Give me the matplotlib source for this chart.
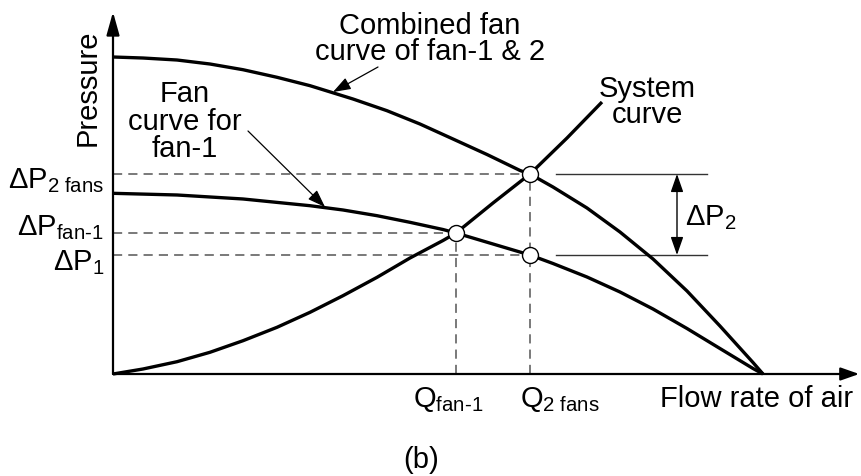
import matplotlib
matplotlib.use("Agg")
import matplotlib.pyplot as plt

# ---------------- data (arbitrary flow / pressure units) ----------------
combined_q = [0.000, 0.462, 0.985, 1.492, 2.000, 2.523, 3.031, 3.692, 4.215,
              4.723, 5.231, 5.754, 6.262, 6.415, 6.769, 7.292, 7.800, 8.308,
              8.831, 9.338, 9.846, 10.000]
combined_p = [10.000, 9.968, 9.905, 9.779, 9.599, 9.360, 9.095, 8.675, 8.306,
              7.886, 7.413, 6.924, 6.420, 6.309, 5.899, 5.237, 4.479, 3.628,
              2.618, 1.514, 0.363, 0.000]

fan1_q = [0.000, 0.985, 2.000, 3.031, 3.538, 4.062, 4.569, 5.077, 5.277,
          6.415, 6.769, 7.292, 7.800, 8.308, 8.831, 9.338, 9.846, 10.000]
fan1_p = [5.700, 5.647, 5.521, 5.309, 5.174, 4.994, 4.785, 4.558, 4.448,
          3.754, 3.486, 3.060, 2.587, 2.050, 1.435, 0.804, 0.174, 0.000]

system_q = [0.000, 0.462, 0.985, 1.492, 2.000, 2.523, 3.031, 3.538, 4.062,
            4.569, 5.077, 5.277, 5.846, 6.415, 6.985, 7.523]
system_p = [0.000, 0.158, 0.388, 0.685, 1.050, 1.473, 1.946, 2.470, 3.050,
            3.659, 4.211, 4.448, 5.394, 6.309, 7.445, 8.580]

# operating points
q_fan1, q_2fans = 5.277, 6.415
dp_fan1, dp_2fans, dp_1 = 4.448, 6.309, 3.754
op_q = [q_2fans, q_fan1, q_2fans]
op_p = [dp_2fans, dp_fan1, dp_1]

q_axis_end = 11.48
p_axis_end = 11.42

# ---------------- figure ----------------
plt.rcParams['font.family'] = ['Liberation Sans', 'DejaVu Sans']
plt.rcParams['mathtext.fontset'] = 'custom'
plt.rcParams['mathtext.rm'] = 'Liberation Sans'
plt.rcParams['mathtext.it'] = 'Liberation Sans'
plt.rcParams['mathtext.bf'] = 'Liberation Sans:bold'

W, H = 862, 477
fig = plt.figure(figsize=(W / 100, H / 100), dpi=100)
ax = fig.add_axes([0, 0, 1, 1])
X0, Y0, SX, SY = 113, 375, 65.0, 31.7   # pixel origin and scale


def P(xp, yp):
    """pixel position -> data coordinates (for label placement)"""
    return ((xp - X0) / SX, (Y0 - yp) / SY)


ax.set_xlim(P(0, 0)[0], P(W, 0)[0])
ax.set_ylim(P(0, H)[1], P(0, 0)[1])
ax.axis('off')

FS = 21
gray = '#555555'

# axes with arrows
ax.annotate('', xy=(0, p_axis_end), xytext=(0, 0),
            arrowprops=dict(arrowstyle='-|>,head_length=1.0,head_width=0.28',
                            mutation_scale=14, lw=1.6, color='black',
                            shrinkA=0, shrinkB=0))
ax.annotate('', xy=(q_axis_end, 0), xytext=(0, 0),
            arrowprops=dict(arrowstyle='-|>,head_length=0.8,head_width=0.28',
                            mutation_scale=14, lw=1.6, color='black',
                            shrinkA=0, shrinkB=0))

# dashed guide lines
dash = dict(color=gray, lw=1.1, linestyle=(0, (6, 4)), zorder=2)
ax.plot([0, q_2fans], [dp_2fans, dp_2fans], **dash)
ax.plot([0, q_fan1], [dp_fan1, dp_fan1], **dash)
ax.plot([0, q_2fans], [dp_1, dp_1], **dash)
ax.plot([q_fan1, q_fan1], [0, dp_fan1], **dash)
ax.plot([q_2fans, q_2fans], [0, dp_2fans], **dash)

# curves
for qs, ps in ((combined_q, combined_p), (fan1_q, fan1_p), (system_q, system_p)):
    ax.plot(qs, ps, color='black', lw=2.4, zorder=3,
            solid_capstyle='butt', solid_joinstyle='round')

# operating points
ax.plot(op_q, op_p, 'o', ms=11.5, mfc='white', mec='black', mew=1.0, zorder=5)

# delta P2 indicator
x_l0, x_l1 = P(556, 0)[0], P(707, 0)[0]
ax.plot([x_l0, x_l1], [dp_2fans, dp_2fans], color='#333333', lw=1.0)
ax.plot([x_l0, x_l1], [dp_1, dp_1], color='#333333', lw=1.0)
xa = P(677, 0)[0]
ax.annotate('', xy=(xa, dp_1), xytext=(xa, dp_2fans),
            arrowprops=dict(arrowstyle='<|-|>,head_length=1.0,head_width=0.35',
                            mutation_scale=11, lw=1.0, color='black',
                            shrinkA=0, shrinkB=0))
ax.text(*P(685, 225), 'ΔP$_{\\text{2}}$', fontsize=FS, ha='left', va='baseline')

# curve labels with arrows
ax.text(*P(430, 60), 'Combined fan\ncurve of fan-1 & 2', fontsize=FS,
        ha='center', va='baseline', linespacing=0.92, multialignment='center')
ax.annotate('', xy=P(333, 93), xytext=P(378, 68),
            arrowprops=dict(arrowstyle='-|>,head_length=0.9,head_width=0.32',
                            mutation_scale=12, lw=0.9, color='black',
                            shrinkA=0, shrinkB=0))
ax.text(*P(185, 157), 'Fan\ncurve for\nfan-1', fontsize=FS,
        ha='center', va='baseline', linespacing=0.97, multialignment='center')
ax.annotate('', xy=P(325, 208), xytext=P(248, 132),
            arrowprops=dict(arrowstyle='-|>,head_length=0.9,head_width=0.32',
                            mutation_scale=12, lw=0.9, color='black',
                            shrinkA=0, shrinkB=0))
ax.text(*P(647, 123), 'System\ncurve', fontsize=FS,
        ha='center', va='baseline', linespacing=0.92, multialignment='center')

# axis labels
ax.text(*P(88, 88), 'Pressure', fontsize=FS, rotation=90,
        ha='center', va='center')
ax.text(*P(660, 407), 'Flow rate of air', fontsize=FS, ha='left', va='baseline')

# tick-like labels
ax.text(*P(104, 188), 'ΔP$_{\\text{2 fans}}$', fontsize=FS, ha='right', va='baseline')
ax.text(*P(104, 235), 'ΔP$_{\\text{fan-1}}$', fontsize=FS, ha='right', va='baseline')
ax.text(*P(104, 270), 'ΔP$_{\\text{1}}$', fontsize=FS, ha='right', va='baseline')
ax.text(*P(413, 407), 'Q$_{\\text{fan-1}}$', fontsize=FS, ha='left', va='baseline')
ax.text(*P(520, 407), 'Q$_{\\text{2 fans}}$', fontsize=FS, ha='left', va='baseline')

ax.text(*P(421, 468), '(b)', fontsize=FS, ha='center', va='baseline')

fig.savefig('out.png', dpi=100)
